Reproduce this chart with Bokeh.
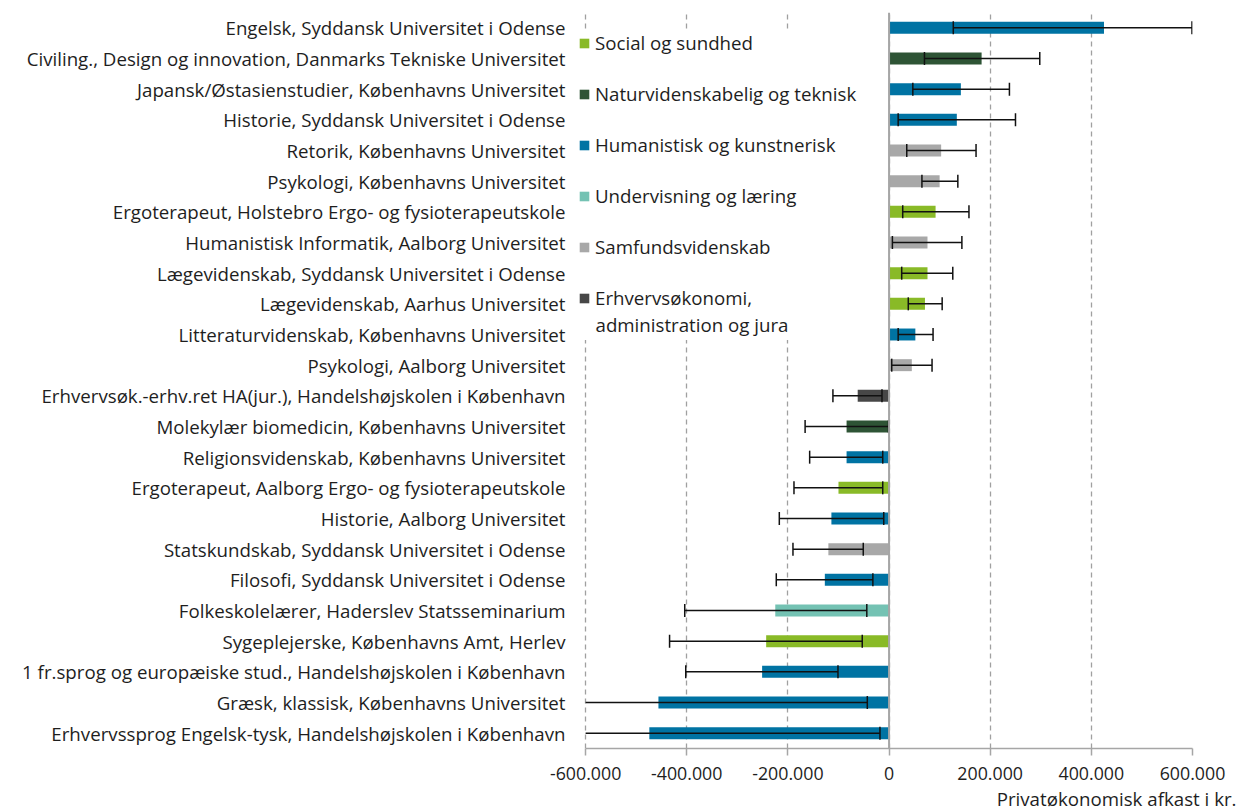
from bokeh.plotting import figure
from bokeh.models import FactorRange, FixedTicker, Legend, LegendItem, Span, Label, Title, ColumnDataSource
from bokeh.embed import file_html
from bokeh.resources import INLINE
import math

programmes = [
    "Engelsk, Syddansk Universitet i Odense",
    "Civiling., Design og innovation, Danmarks Tekniske Universitet",
    "Japansk/Østasienstudier, Københavns Universitet",
    "Historie, Syddansk Universitet i Odense",
    "Retorik, Københavns Universitet",
    "Psykologi, Københavns Universitet",
    "Ergoterapeut, Holstebro Ergo- og fysioterapeutskole",
    "Humanistisk Informatik, Aalborg Universitet",
    "Lægevidenskab, Syddansk Universitet i Odense",
    "Lægevidenskab, Aarhus Universitet",
    "Litteraturvidenskab, Københavns Universitet",
    "Psykologi, Aalborg Universitet",
    "Erhvervsøk.-erhv.ret HA(jur.), Handelshøjskolen i København",
    "Molekylær biomedicin, Københavns Universitet",
    "Religionsvidenskab, Københavns Universitet",
    "Ergoterapeut, Aalborg Ergo- og fysioterapeutskole",
    "Historie, Aalborg Universitet",
    "Statskundskab, Syddansk Universitet i Odense",
    "Filosofi, Syddansk Universitet i Odense",
    "Folkeskolelærer, Haderslev Statsseminarium",
    "Sygeplejerske, Københavns Amt, Herlev",
    "1 fr.sprog og europæiske stud., Handelshøjskolen i København",
    "Græsk, klassisk, Københavns Universitet",
    "Erhvervssprog Engelsk-tysk, Handelshøjskolen i København",
]

field_names = [
    "Social og sundhed",
    "Naturvidenskabelig og teknisk",
    "Humanistisk og kunstnerisk",
    "Undervisning og læring",
    "Samfundsvidenskab",
    "Erhvervsøkonomi,",
]
field_name_line2 = "administration og jura"
field_colors = ["#89BA27", "#2E5435", "#0073A3", "#74C2B3", "#A8A8A8", "#474747"]

programme_field = [2, 1, 2, 2, 4, 4, 0, 4, 0, 0, 2, 4, 5, 1, 2, 0, 2, 4, 2, 3, 0, 2, 2, 2]

returns = [425000, 183000, 142000, 134000, 103000, 100000, 92000, 76000, 76000, 71000,
           52000, 45000, -62000, -84000, -84000, -100000, -114000, -120000, -127000,
           -225000, -243000, -251000, -456000, -474000]
ci_low = [127000, 70000, 47000, 18000, 35000, 65000, 27000, 6600, 25000, 38000,
          18000, 5300, -111000, -166000, -157000, -188000, -217000, -190000, -223000,
          -404000, -434000, -402000, -650000, -650000]
ci_high = [599000, 298000, 238000, 250000, 172000, 136000, 158000, 144000, 126000, 105000,
           87000, 85000, -14000, -1000, -12500, -12500, -10500, -51000, -32000,
           -44000, -53000, -101000, -43000, -18000]

x_ticks = [-600000, -400000, -200000, 0, 200000, 400000, 600000]
x_tick_labels = ["-600.000", "-400.000", "-200.000", "0", "200.000", "400.000", "600.000"]
x_title = "Privatøkonomisk afkast i kr."

FONT = "Open Sans"
TXT = "#1e1e1e"
LBL = "18.7px"

x_min, x_max = x_ticks[0], x_ticks[-1]

p = figure(width=1236, height=812,
           y_range=FactorRange(factors=programmes[::-1]),
           x_range=(-620000, 600000),
           output_backend="svg", toolbar_location=None,
           min_border_left=575, min_border_right=44, min_border_top=12, min_border_bottom=63)
p.outline_line_color = None

renderers = []
for i, name in enumerate(field_names):
    idx = [k for k, f in enumerate(programme_field) if f == i]
    src = ColumnDataSource(dict(y=[programmes[k] for k in idx], right=[returns[k] for k in idx]))
    r = p.hbar(y="y", left=0, right="right", height=0.39, source=src,
               fill_color=field_colors[i], line_color=None)
    renderers.append(r)

# error bars, cut at the axis limit like the original chart
seg_x0 = [max(v, x_min) for v in ci_low]
p.segment(x0=seg_x0, y0=programmes, x1=ci_high, y1=programmes, line_color="#111111", line_width=1.5)
cap_low_x = [v for v in ci_low if v >= x_min]
cap_low_y = [c for c, v in zip(programmes, ci_low) if v >= x_min]
p.scatter(x=cap_low_x, y=cap_low_y, marker="dash", angle=math.pi / 2, size=13,
          line_color="#111111", line_width=1.5)
p.scatter(x=ci_high, y=programmes, marker="dash", angle=math.pi / 2, size=13,
          line_color="#111111", line_width=1.5)

p.add_layout(Span(location=0, dimension="height", line_color="#A6A6A6", line_width=2))

ticker = FixedTicker(ticks=x_ticks)
p.xaxis.ticker = ticker
p.xaxis.bounds = (x_min, x_max)
p.xaxis.major_label_overrides = {t: l for t, l in zip(x_ticks, x_tick_labels)}
p.xaxis.axis_line_color = "#A6A6A6"
p.xaxis.axis_line_width = 1.5
p.xaxis.major_tick_line_color = "#A6A6A6"
p.xaxis.major_tick_line_width = 1.5
p.xaxis.major_tick_out = 7
p.xaxis.major_tick_in = 0
p.xaxis.minor_tick_line_color = None
p.xaxis.major_label_standoff = 11
p.xaxis.major_label_text_font = FONT
p.xaxis.major_label_text_font_size = "17.8px"
p.xaxis.major_label_text_color = TXT

p.xgrid.ticker = ticker
p.xgrid.grid_line_color = "#A0A0A0"
p.xgrid.grid_line_dash = "5 4"
p.xgrid.grid_line_width = 1.3
p.ygrid.grid_line_color = None

p.yaxis.axis_line_color = None
p.yaxis.major_tick_line_color = None
p.yaxis.major_tick_out = 0
p.yaxis.major_tick_in = 0
p.yaxis.minor_tick_line_color = None
p.yaxis.major_label_standoff = 10
p.yaxis.major_label_text_font = FONT
p.yaxis.major_label_text_font_size = LBL
p.yaxis.major_label_text_color = TXT

# axis title, right aligned below the tick labels
p.add_layout(Title(text=x_title, align="right", offset=-44, text_font=FONT,
                   text_font_size=LBL, text_font_style="normal", text_color=TXT,
                   standoff=3), "below")

legend = Legend(items=[LegendItem(label=n, renderers=[r]) for n, r in zip(field_names, renderers)],
                location=(3, 438), background_fill_color="white", background_fill_alpha=1.0,
                border_line_color=None, label_text_font=FONT, label_text_font_size=LBL,
                label_text_color=TXT, glyph_width=12, glyph_height=12, label_height=20,
                spacing=26, padding=5, label_standoff=5, margin=0)
p.add_layout(legend, "center")

# second line of the last legend entry
p.add_layout(Label(x=-2, y=423, x_units="screen", y_units="screen", text=field_name_line2,
                   text_align="left", text_baseline="middle", text_font=FONT,
                   text_font_size=LBL, text_color=TXT,
                   background_fill_color="white", background_fill_alpha=1.0,
                   padding=dict(left=22, right=6, top=1, bottom=3)))

open("out.html", "w").write(file_html(p, INLINE))
